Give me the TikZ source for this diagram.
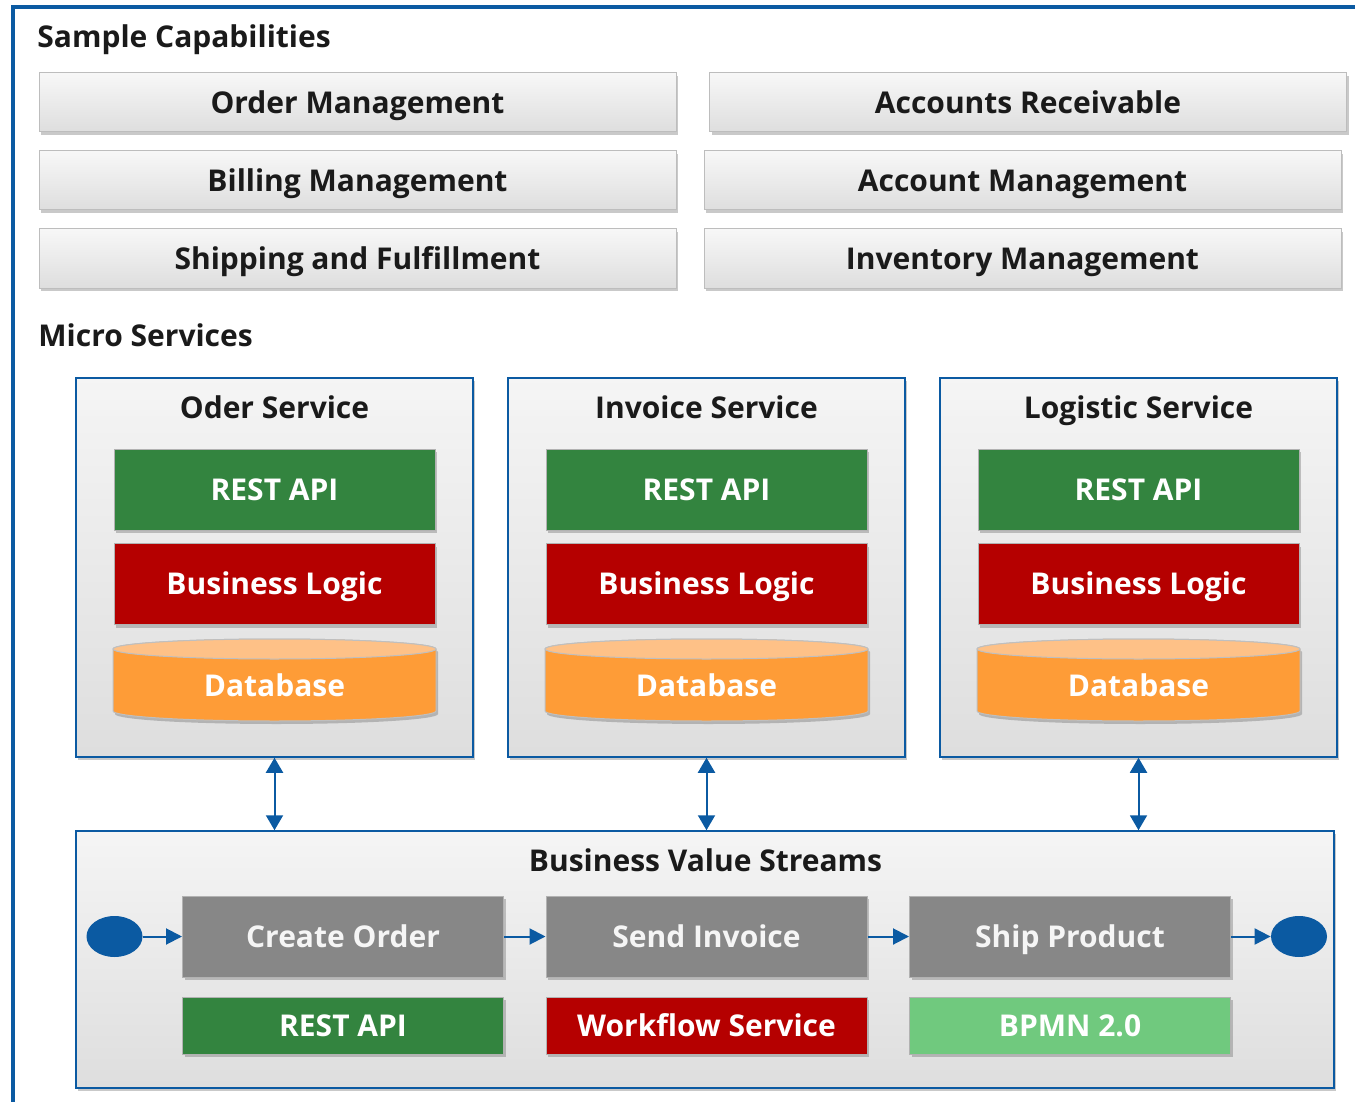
\documentclass[tikz,border=0pt]{standalone}
\usepackage{fontspec}
\setmainfont{Open Sans}
\usetikzlibrary{backgrounds,shadows,arrows.meta,calc,shapes.geometric}
\definecolor{frameblue}{HTML}{0B5AA2}
\definecolor{restgreen}{HTML}{33843F}
\definecolor{logicred}{HTML}{B50000}
\definecolor{dbtop}{HTML}{FEC187}
\definecolor{dbbody}{HTML}{FE9C37}
\definecolor{stepgray}{HTML}{878787}
\definecolor{bpmngreen}{HTML}{70C97E}
\definecolor{boxline}{HTML}{BDBDBD}
\definecolor{textblack}{HTML}{1A1A1A}
\newcommand{\boxfont}{\fontsize{30}{32}\selectfont\bfseries}

\begin{document}
\begin{tikzpicture}[x=1pt,y=-1pt,thick]
    % `capability' is used for the boxes of the top section.
    % `service' is the blue framed box round a micro service, `layer' the blocks inside it.
    % `stepbox' and `tech' are used for the value stream.
    \tikzstyle{lift} = [drop shadow={shadow xshift=2pt,shadow yshift=-3pt,opacity=0.3,fill=black!70}]
    \tikzstyle{heading} = [font=\boxfont,text=textblack,inner sep=0,text height=21.5,text depth=0]
    \tikzstyle{capability} = [draw=boxline,line width=1pt,top color=black!3,bottom color=black!13,lift,minimum width=637,minimum height=59,heading]
    \tikzstyle{service} = [draw=frameblue,line width=1.5pt,top color=black!4,bottom color=black!13,lift,minimum width=397,minimum height=379,inner sep=0]
    \tikzstyle{layer} = [draw=black!30,line width=1pt,lift,minimum width=321,minimum height=81,heading,text=white]
    \tikzstyle{stepbox} = [layer,fill=stepgray,text=black!4]
    \tikzstyle{tech} = [layer,minimum height=57]
    \tikzstyle{event} = [fill=frameblue,ellipse,minimum width=56,minimum height=41,inner sep=0]
    \tikzstyle{flow} = [frameblue,line width=2pt,-{Triangle[width=16pt,length=16pt]}]
    \tikzstyle{link} = [frameblue,line width=2pt,{Triangle[width=17pt,length=15pt]}-{Triangle[width=17pt,length=15pt]}]
    %
    \useasboundingbox (0,0) rectangle (1355,1102);
    \clip (0,0) rectangle (1355,1102);
    \draw[frameblue,line width=4pt] (13,1120) -- (13,7) -- (1370,7);
    %
    \node[heading,anchor=base west] (caphead) at (37,48) {Sample Capabilities};
    \node[capability] (order) at (357.5,102.5) {Order Management};
    \node[capability] (receivable) at (1028,102.5) {Accounts Receivable};
    \node[capability] (billing) at (357.5,180.5) {Billing Management};
    \node[capability] (account) at (1022.5,180.5) {Account Management};
    \node[capability] (shipping) at (357.5,258.5) {Shipping and Fulfillment};
    \node[capability] (inventory) at (1022.5,258.5) {Inventory Management};
    %
    \node[heading,anchor=base west] (mshead) at (38,346) {Micro Services};
    \foreach \cx/\sv/\title in {274.5/ord/Oder Service,706.5/inv/Invoice Service,1138.5/log/Logistic Service} {
      \node[service] (\sv) at (\cx,567.5) {};
      \node[heading] (\sv-title) at (\cx,408) {\title};
      \node[layer,fill=restgreen] (\sv-rest) at (\cx,489.5) {REST API};
      \node[layer,fill=logicred] (\sv-logic) at (\cx,584) {Business Logic};
      % database cylinder
      \coordinate (\sv-dbc) at (\cx,680);
      \filldraw[dbbody,draw=black!25,line width=1pt,lift] ($(\sv-dbc)+(-161.5,-31)$) -- ++(0,62)
        arc[start angle=180,end angle=360,x radius=161.5pt,y radius=10pt] -- ++(0,-62)
        arc[start angle=0,end angle=180,x radius=161.5pt,y radius=10pt] -- cycle;
      \filldraw[dbtop,draw=black!25,line width=1pt] ($(\sv-dbc)+(0,-31)$) ellipse[x radius=161.5pt,y radius=10pt];
      \node[heading,text=white] (\sv-db) at (\cx,686) {Database};
    }
    %
    \node[service,minimum width=1258,minimum height=257] (bvs) at (705,959.5) {};
    \node[heading] (bvs-title) at (705.5,861) {Business Value Streams};
    \node[stepbox] (create) at (343,936.5) {Create Order};
    \node[stepbox] (invoice) at (706.5,936.5) {Send Invoice};
    \node[stepbox] (ship) at (1070,936.5) {Ship Product};
    \node[tech,fill=restgreen] (create-rest) at (343,1025.5) {REST API};
    \node[tech,fill=logicred] (workflow) at (706.5,1025.5) {Workflow Service};
    \node[tech,fill=bpmngreen] (bpmn) at (1070,1025.5) {BPMN 2.0};
    \node[event] (start) at (114.5,936.5) {};
    \node[event] (stop) at (1299,936.5) {};
    % Draw connectors.
    \foreach \sv in {ord,inv,log}
      \draw[link] (\sv.south) -- (\sv.south |- bvs.north);
    \draw[flow] (start) -- (create);
    \draw[flow] (create) -- (invoice);
    \draw[flow] (invoice) -- (ship);
    \draw[flow] (ship) -- (stop);
\end{tikzpicture}
\end{document}
